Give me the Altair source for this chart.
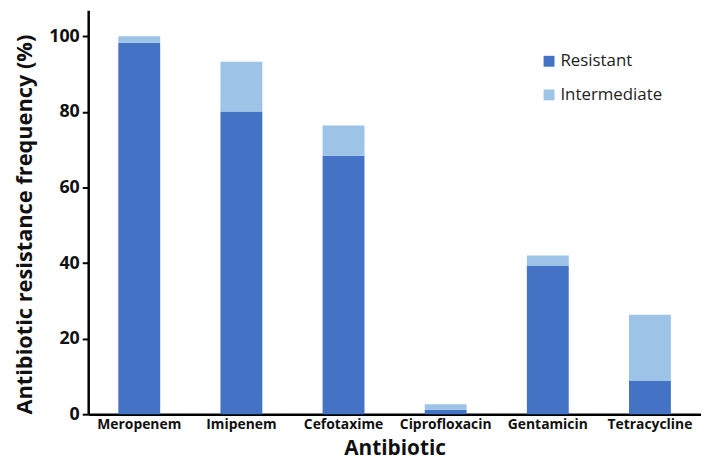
import altair as alt
import pandas as pd

antibiotics = ["Meropenem", "Imipenem", "Cefotaxime", "Ciprofloxacin", "Gentamicin", "Tetracycline"]
resistant = [98.3, 80.1, 68.4, 1.2, 39.2, 8.8]
intermediate = [1.7, 13.2, 8.0, 1.4, 2.8, 17.5]
categories = ["Resistant", "Intermediate"]
colors = ["#4472C4", "#9DC3E6"]

rows = []
for a, r, i in zip(antibiotics, resistant, intermediate):
    rows.append({"Antibiotic": a, "Category": "Resistant", "Value": r, "ord": 0})
    rows.append({"Antibiotic": a, "Category": "Intermediate", "Value": i, "ord": 1})
df = pd.DataFrame(rows)

FONT = "Open Sans"

chart = alt.Chart(df).mark_bar().encode(
    x=alt.X("Antibiotic:N", sort=antibiotics,
            scale=alt.Scale(paddingInner=0.59, paddingOuter=0.295),
            axis=alt.Axis(title="Antibiotic", labelAngle=0, ticks=False,
                          domainColor="black", domainWidth=2.5,
                          labelFont=FONT, labelFontSize=14, labelFontWeight="bold",
                          labelColor="#111", labelPadding=3,
                          titleFont=FONT, titleFontSize=21, titleFontWeight="bold",
                          titleColor="#111", titleBaseline="alphabetic",
                          titleY=40.5)),
    y=alt.Y("Value:Q", stack="zero",
            scale=alt.Scale(domain=[0, 106.9], nice=False),
            axis=alt.Axis(title="Antibiotic resistance frequency (%)",
                          values=[0, 20, 40, 60, 80, 100], grid=False,
                          domainColor="black", domainWidth=2.5,
                          tickColor="black", tickWidth=2, tickSize=6,
                          labelFont=FONT, labelFontSize=18, labelFontWeight="bold",
                          labelColor="#111", labelPadding=3,
                          titleFont=FONT, titleFontSize=22, titleFontWeight="bold",
                          titleColor="#111", titleAngle=270,
                          titleX=-57, titleY=216, titleAlign="center",
                          titleBaseline="alphabetic")),
    color=alt.Color("Category:N",
                    scale=alt.Scale(domain=categories, range=colors),
                    legend=alt.Legend(title=None, orient="none",
                                      legendX=457, legendY=43,
                                      symbolType="square", symbolSize=121,
                                      symbolStrokeWidth=0, rowPadding=16,
                                      labelFont=FONT, labelFontSize=17,
                                      labelColor="#222", labelOffset=3,
                                      padding=0)),
    order=alt.Order("ord:Q"),
).properties(
    width=619, height=408,
    autosize=alt.AutoSizeParams(type="none"),
    padding={"left": 81, "top": 0, "right": 0, "bottom": 47},
).configure_view(stroke=None)

chart.save("out.html", embed_options={"renderer": "svg", "actions": False})
